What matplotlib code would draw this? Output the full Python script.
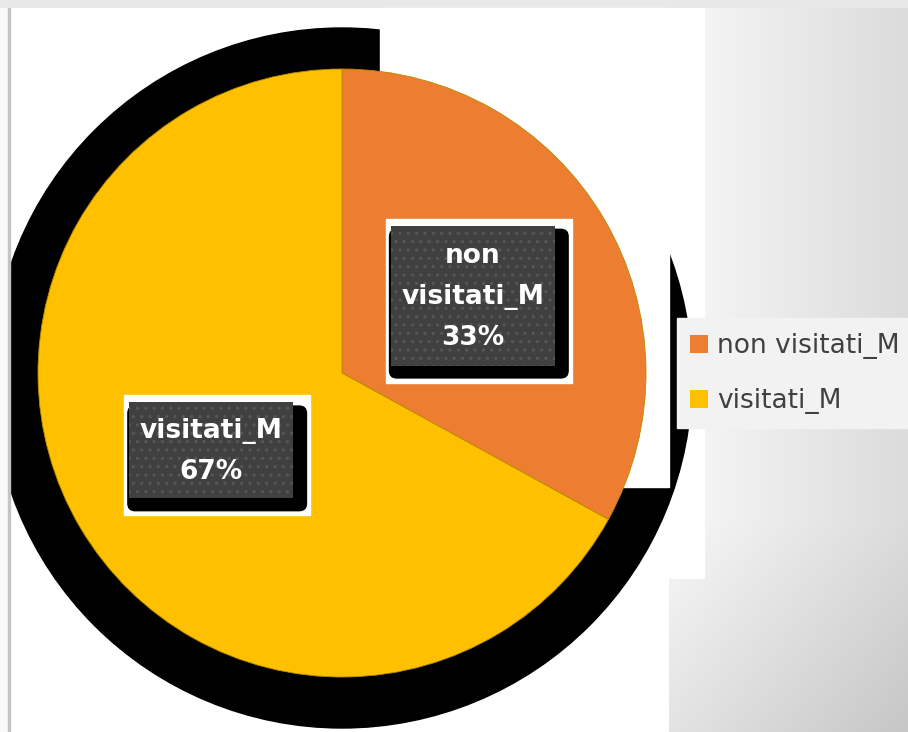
import numpy as np
import matplotlib
matplotlib.use('Agg')
import matplotlib.pyplot as plt
import matplotlib.patches as mpatches

plt.rcParams['font.family'] = ['DejaVu Sans']
plt.rcParams['hatch.linewidth'] = 1.2

categorie = ['non visitati_M', 'visitati_M']
valori = [33, 67]
colori = ['#ED7D31', '#FFC000']
etichette = ['non\nvisitati_M\n33%', 'visitati_M\n67%']

W, H = 908, 732
fig = plt.figure(figsize=(W / 100, H / 100), dpi=100)
ax = fig.add_axes([0, 0, 1, 1])

# sfondo: area bianca + bordo grigio sfumato a destra
yy, xx = np.mgrid[0:H, 0:W]
g = 248 - 0.12 * (xx - 669) - 0.1 * np.clip(yy - 520, 0, None)
bg = np.full((H, W), 255.0)
grigio = ((xx >= 705) & (yy < 579)) | ((xx >= 669) & (yy >= 579))
bg[grigio] = g[grigio]
bg[:8, :] = 232
ax.imshow(np.dstack([bg] * 3) / 255, extent=(0, W, H, 0), zorder=0)

cx, cy, r = 342, 373, 304

# ombra nera dietro la torta (tagliata in alto a destra)
ax.add_patch(mpatches.Circle((cx, cy + 5), r + 46, color='black', zorder=1))
ax.add_patch(mpatches.Rectangle((380, 8), 289, 479, color='white', zorder=1.5))
# margine sinistro
ax.add_patch(mpatches.Rectangle((0, 8), 8, H, color='#fafafa', zorder=1.6))
ax.add_patch(mpatches.Rectangle((8, 8), 2, H, color='#c4c4c4', zorder=1.6))

wedges, _ = ax.pie(valori, colors=colori, startangle=270, counterclock=True,
                   center=(cx, cy), radius=r,
                   wedgeprops=dict(edgecolor='#b88a00', linewidth=0.6, zorder=2))

# etichette dati
for w, txt in zip(wedges, etichette):
    th = np.deg2rad((w.theta1 + w.theta2) / 2)
    x = cx + 0.5 * r * np.cos(th)
    y = cy + 0.5 * r * np.sin(th)
    n = txt.count('\n') + 1
    bw, bh = 164, 44 * n + 8
    x0, y0 = x - bw / 2, y - bh / 2
    ax.add_patch(mpatches.Rectangle((x0 - 5, y0 - 7), bw + 22, bh + 24, color='white', zorder=3))
    ax.add_patch(mpatches.FancyBboxPatch((x0 - 2, y0 + 3), bw + 16, bh + 10,
                                         boxstyle='round,pad=0,rounding_size=8',
                                         facecolor='black', edgecolor='none', zorder=3.1))
    ax.add_patch(mpatches.Rectangle((x0, y0), bw, bh, facecolor='#404040', edgecolor='#555555',
                                    hatch='..', linewidth=0, zorder=3.2))
    ax.text(x, y + 1, txt, color='white', fontsize=19, fontweight='bold', ha='center', va='center',
            linespacing=1.75, zorder=4)

# legenda
ax.add_patch(mpatches.Rectangle((677, 318), 231, 110, color='#f2f2f2', zorder=3))
handles = [mpatches.Patch(facecolor=c, edgecolor='none') for c in colori]
leg = ax.legend(handles, categorie, loc='upper left', bbox_to_anchor=(690, 333),
                bbox_transform=ax.transData, frameon=False, fontsize=19,
                handlelength=0.68, handleheight=0.68, handletextpad=0.34,
                labelspacing=1.1, borderpad=0, borderaxespad=0)
leg.set_zorder(5)
for t in leg.get_texts():
    t.set_color('#404040')

ax.set_xlim(0, W)
ax.set_ylim(H, 0)
ax.axis('off')

fig.savefig('out.png', dpi=100)
